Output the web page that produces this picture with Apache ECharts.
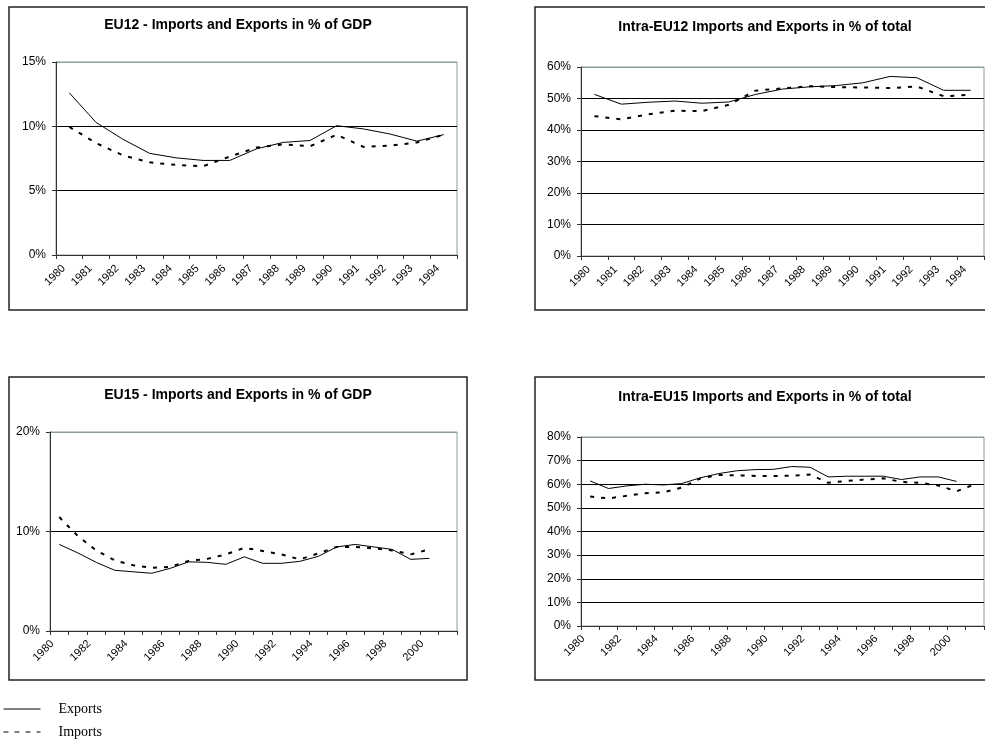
<!DOCTYPE html>
<html>
<head>
<meta charset="utf-8">
<script src="https://cdn.jsdelivr.net/npm/echarts@6/dist/echarts.min.js"></script>
<style>
  html, body { margin: 0; padding: 0; background: #fff; }
  #chart { width: 985px; height: 744px; }
</style>
</head>
<body>
<div id="chart"></div>
<script>
// Years on the category axes
const years12 = ['1980','1981','1982','1983','1984','1985','1986','1987','1988','1989','1990','1991','1992','1993','1994'];
const years15 = ['1980','1981','1982','1983','1984','1985','1986','1987','1988','1989','1990','1991','1992','1993','1994','1995','1996','1997','1998','1999','2000','2001'];

// EU12 - extra-EU trade in % of GDP
const eu12GdpExports = [12.6, 10.3, 9.0, 7.9, 7.55, 7.35, 7.35, 8.25, 8.75, 8.9, 10.05, 9.8, 9.4, 8.85, 9.35];
const eu12GdpImports = [9.95, 8.7, 7.75, 7.2, 7.0, 6.9, 7.65, 8.35, 8.6, 8.45, 9.35, 8.4, 8.5, 8.75, 9.35];

// Intra-EU12 trade in % of total
const eu12IntraExports = [51.3, 48.2, 48.8, 49.2, 48.5, 48.9, 51.3, 53.0, 53.7, 54.1, 55.0, 57.0, 56.6, 52.6, 52.6];
const eu12IntraImports = [44.4, 43.4, 45.0, 46.1, 46.0, 48.0, 52.5, 53.2, 53.9, 53.6, 53.5, 53.3, 53.8, 50.7, 51.2];

// EU15 - extra-EU trade in % of GDP
const eu15GdpExports = [8.7, 7.85, 6.9, 6.1, 5.95, 5.8, 6.3, 6.95, 6.9, 6.7, 7.45, 6.8, 6.8, 7.0, 7.5, 8.45, 8.7, 8.45, 8.2, 7.2, 7.3];
const eu15GdpImports = [11.45, 9.55, 8.1, 7.1, 6.6, 6.35, 6.45, 7.05, 7.25, 7.7, 8.35, 8.05, 7.7, 7.2, 7.8, 8.45, 8.45, 8.3, 8.1, 7.7, 8.2];

// Intra-EU15 trade in % of total
const eu15IntraExports = [61.4, 58.2, 59.3, 60.0, 59.7, 60.3, 62.7, 64.5, 65.7, 66.2, 66.3, 67.5, 67.2, 63.1, 63.4, 63.4, 63.4, 62.0, 63.1, 63.1, 61.2];
const eu15IntraImports = [54.8, 54.0, 55.1, 56.2, 56.6, 58.6, 62.4, 63.9, 63.8, 63.5, 63.5, 63.6, 64.1, 60.6, 61.4, 62.0, 62.5, 61.0, 60.6, 59.5, 57.0, 60.0];

// Axis ranges
const yRanges = [
  { min: 0, max: 15, interval: 5 },
  { min: 0, max: 60, interval: 10 },
  { min: 0, max: 20, interval: 10 },
  { min: 0, max: 80, interval: 10 }
];

const panelTitles = [
  'EU12 - Imports and Exports in % of GDP',
  'Intra-EU12 Imports and Exports in % of total',
  'EU15 - Imports and Exports in % of GDP',
  'Intra-EU15 Imports and Exports in % of total'
];

const SANS = '"Liberation Sans", Arial, sans-serif';
const SERIF = '"Liberation Serif", "Times New Roman", serif';
const FRAME = '#8c9ca0';
const AXIS = '#333';

const grids = [
  { left: 56, top: 62, width: 401, height: 193 },
  { left: 581, top: 67, width: 403, height: 189 },
  { left: 50, top: 432, width: 407, height: 199 },
  { left: 581, top: 437, width: 403, height: 189 }
];

const frames = [
  { x: 9, y: 7, width: 458, height: 303 },
  { x: 535, y: 7, width: 460, height: 303 },
  { x: 9, y: 377, width: 458, height: 303 },
  { x: 535, y: 377, width: 460, height: 303 }
];

const titlePos = [
  { x: 238, y: 25 },
  { x: 765, y: 27 },
  { x: 238, y: 395 },
  { x: 765, y: 397 }
];

// Grid lines: black inside the plot, grey where they meet the plot frame
function splitColors(r) {
  const n = Math.round((r.max - r.min) / r.interval) + 1;
  const arr = [];
  for (let i = 0; i < n; i++) arr.push(i === 0 ? AXIS : (i === n - 1 ? FRAME : '#000'));
  return arr;
}

const xCats = [years12, years12, years15, years15];

const option = {
  animation: false,
  backgroundColor: '#fff',
  graphic: frames.map(f => ({
    type: 'rect', shape: f, silent: true,
    style: { fill: 'none', stroke: '#222', lineWidth: 1.5 }
  })).concat(titlePos.map((p, i) => ({
    type: 'text', x: p.x, y: p.y, silent: true,
    style: {
      text: panelTitles[i], fill: '#000',
      font: 'bold 14px ' + SANS, align: 'center', verticalAlign: 'middle'
    }
  }))),
  legend: {
    orient: 'vertical',
    left: 3, top: 702, padding: 0,
    itemWidth: 37, itemHeight: 14, itemGap: 9,
    itemStyle: { opacity: 0 },
    textStyle: { fontFamily: SERIF, fontSize: 14, color: '#000', padding: [0, 0, 0, 13] },
    data: [
      { name: 'Exports', lineStyle: { width: 1, color: '#000' } },
      { name: 'Imports', lineStyle: { width: 1, color: '#000', type: [5, 6] } }
    ]
  },
  grid: grids.map(g => Object.assign({
    show: true, borderColor: FRAME, borderWidth: 1, backgroundColor: '#fff', containLabel: false
  }, g)),
  xAxis: xCats.map((cats, i) => ({
    type: 'category', gridIndex: i, data: cats, boundaryGap: true,
    axisLine: { lineStyle: { color: AXIS, width: 1 } },
    axisTick: { show: true, interval: 0, length: 4, lineStyle: { color: AXIS } },
    axisLabel: {
      interval: i < 2 ? 0 : 1, rotate: 45, margin: i < 2 ? 6 : 4,
      padding: [0, i < 2 ? 8 : 10, 0, 0],
      color: '#000', fontFamily: SANS, fontSize: 11
    },
    splitLine: { show: false }
  })),
  yAxis: yRanges.map((r, i) => ({
    type: 'value', gridIndex: i, min: r.min, max: r.max, interval: r.interval,
    axisLine: { show: true, lineStyle: { color: AXIS, width: 1 } },
    axisTick: { show: true, length: 4, lineStyle: { color: AXIS } },
    axisLabel: { formatter: '{value}%', color: '#000', fontFamily: SANS, fontSize: 12, margin: 10 },
    splitLine: { show: true, lineStyle: { color: splitColors(r), width: 1 } }
  })),
  series: []
};

const seriesData = [
  [eu12GdpExports, eu12GdpImports],
  [eu12IntraExports, eu12IntraImports],
  [eu15GdpExports, eu15GdpImports],
  [eu15IntraExports, eu15IntraImports]
];

seriesData.forEach((pair, i) => {
  option.series.push({
    name: 'Exports', type: 'line', xAxisIndex: i, yAxisIndex: i,
    data: pair[0], symbol: 'none', smooth: false,
    lineStyle: { color: '#000', width: 1 },
    itemStyle: { color: '#000' }
  });
  option.series.push({
    name: 'Imports', type: 'line', xAxisIndex: i, yAxisIndex: i,
    data: pair[1], symbol: 'none', smooth: false,
    lineStyle: { color: '#000', width: 2, type: [4, 7] },
    itemStyle: { color: '#000' }
  });
});

const chart = echarts.init(document.getElementById('chart'), null, { renderer: 'canvas' });
chart.setOption(option);
</script>
</body>
</html>
